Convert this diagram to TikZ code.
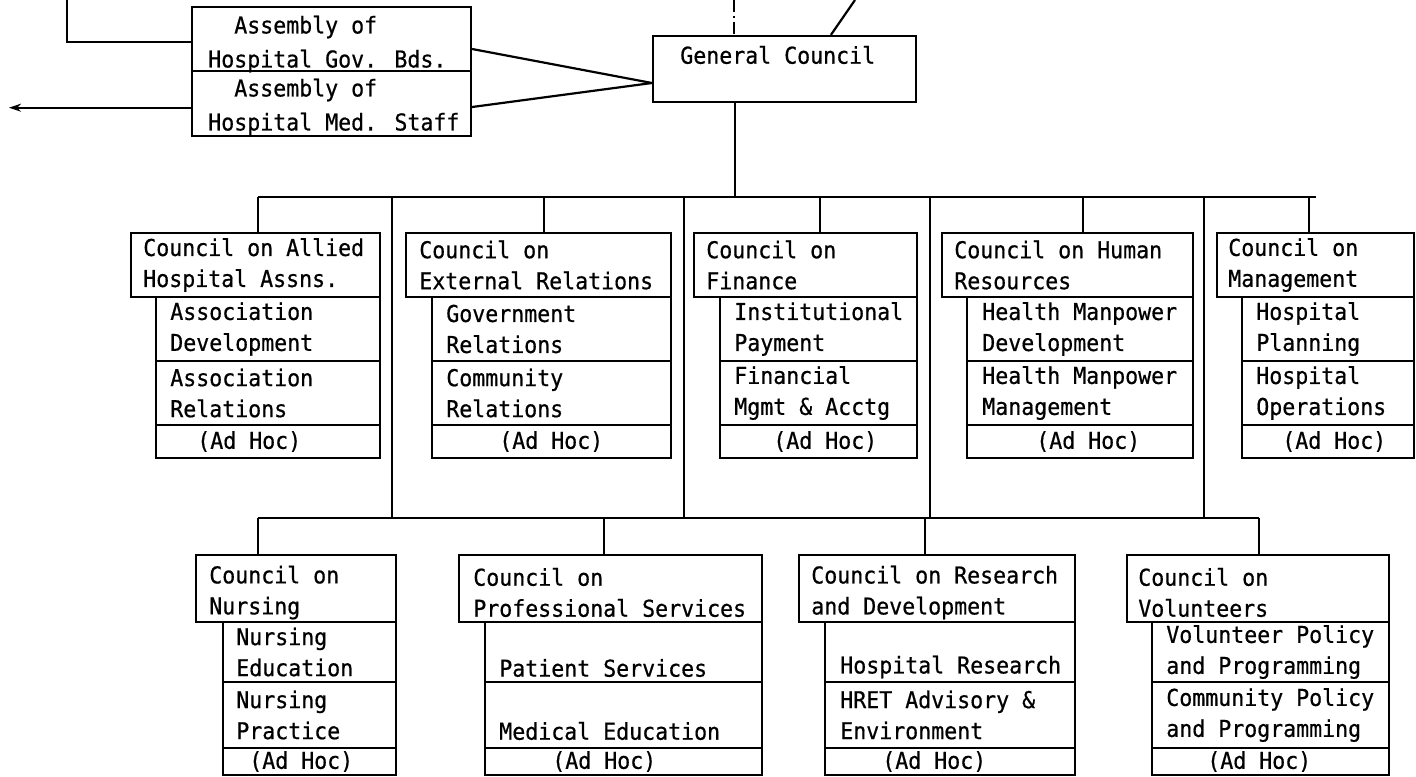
\documentclass[tikz,border=0pt]{standalone}
\usepackage{fontspec}
\newfontfamily\tyfont{DejaVu Sans Mono}[FakeStretch=0.93,FakeBold=0.6]
\usetikzlibrary{fit,arrows.meta}
\begin{document}
\begin{tikzpicture}[x=0.5pt,y=-0.5pt,
  ln/.style={line width=1.1pt},
  box/.style={draw, line width=1.1pt, inner sep=0pt},
  txt/.style={font=\tyfont\fontsize{11.6pt}{15.5pt}\selectfont, align=left, inner sep=0pt, anchor=west},
  asm/.style={txt, font=\tyfont\fontsize{11.6pt}{17pt}\selectfont}
]
\fill[white] (0,0) rectangle (1416,776);
\useasboundingbox (0,0) rectangle (1416,776);
\clip (0,0) rectangle (1416,776);

% ---- top level
\node[box, fit={(192,7)(471,71)}] (agov) {};
\node[box, fit={(192,71)(471,136)}] (amed) {};
\node[box, fit={(653,36)(916,102)}] (gc) {};
\node[asm] (agovt) at ([xshift=8.5pt,yshift=-2.5pt]agov.west) {\phantom{Ho}Assembly of\\Hospital Gov. Bds.};
\node[asm] (amedt) at ([xshift=8.5pt,yshift=-1.75pt]amed.west) {\phantom{Ho}Assembly of\\Hospital Med. Staff};
\node[txt] (gct) at ([xshift=14pt,yshift=7pt]gc.west) {General Council};

\coordinate (tl) at (67,0);
\coordinate (al) at (9,108);
\coordinate (gctop) at (734,0);
\coordinate (slt) at (855,0);
\coordinate (gcd) at (735,197);
\coordinate (b1l) at (258,197);
\coordinate (b1r) at (1316,197);
\coordinate (b2l) at (258,518);
\coordinate (b2r) at (1259,518);

\draw[ln] ([yshift=-1.5pt]agov.west) -| (tl);
\draw[ln,-{Stealth[length=6pt,width=4pt]}] ([yshift=-2.1pt]amed.west) -- ([yshift=-2.1pt]amed.west -| al);
\draw[ln] ([yshift=-5pt]agov.east) -- ([yshift=-7pt]gc.west);
\draw[ln] ([yshift=-1.75pt]amed.east) -- ([yshift=-7pt]gc.west);
\draw[ln, dash pattern=on 6pt off 2pt on 1pt off 2pt] (gctop) -- (gctop |- gc.north);
\draw[ln] (slt) -- ([xshift=89.5pt]gc.north west);
\draw[ln] (gcd |- gc.south) -- (gcd);
\draw[ln] (b1l) -- (b1r);
\draw[ln] (b2l) -- (b2r);

% dividers between the two buses
\coordinate (d1) at (392,197);
\coordinate (d2) at (684,197);
\coordinate (d3) at (930,197);
\coordinate (d4) at (1204,197);
\foreach \d in {d1,d2,d3,d4} { \draw[ln] (\d) -- (\d |- b2l); }

% ---- row 1
% Allied
\node[box, fit={(131,233)(380,297)}] (h1) {};
\node[box, fit={(156,297)(380,361)}] (s1a) {};
\node[box, fit={(156,361)(380,425)}] (s1b) {};
\node[box, fit={(156,425)(380,458)}] (s1c) {};
\node[txt] (h1t) at ([xshift=6.5pt]h1.west) {Council on Allied\\Hospital Assns.};
\node[txt] (s1at) at ([xshift=7.5pt]s1a.west) {Association\\Development};
\node[txt] (s1bt) at ([xshift=7.5pt]s1b.west) {Association\\Relations};
\node[txt] (s1ct) at ([xshift=21pt]s1c.west) {(Ad Hoc)};
% External
\node[box, fit={(406,233)(671,297)}] (h2) {};
\node[box, fit={(432,297)(671,361)}] (s2a) {};
\node[box, fit={(432,361)(671,425)}] (s2b) {};
\node[box, fit={(432,425)(671,458)}] (s2c) {};
\node[txt] (h2t) at ([xshift=7pt]h2.west) {Council on\\External Relations};
\node[txt] (s2at) at ([xshift=7.5pt]s2a.west) {Government\\Relations};
\node[txt] (s2bt) at ([xshift=7.5pt]s2b.west) {Community\\Relations};
\node[txt] (s2ct) at ([xshift=34pt]s2c.west) {(Ad Hoc)};
% Finance
\node[box, fit={(694,233)(917,297)}] (h3) {};
\node[box, fit={(720,297)(917,361)}] (s3a) {};
\node[box, fit={(720,361)(917,425)}] (s3b) {};
\node[box, fit={(720,425)(917,458)}] (s3c) {};
\node[txt] (h3t) at ([xshift=6.5pt]h3.west) {Council on\\Finance};
\node[txt] (s3at) at ([xshift=7.5pt]s3a.west) {Institutional\\Payment};
\node[txt] (s3bt) at ([xshift=7.5pt]s3b.west) {Financial\\Mgmt \& Acctg};
\node[txt] (s3ct) at ([xshift=27pt]s3c.west) {(Ad Hoc)};
% Human Resources
\node[box, fit={(942,233)(1193,297)}] (h4) {};
\node[box, fit={(967,297)(1193,361)}] (s4a) {};
\node[box, fit={(967,361)(1193,425)}] (s4b) {};
\node[box, fit={(967,425)(1193,458)}] (s4c) {};
\node[txt] (h4t) at ([xshift=6.5pt]h4.west) {Council on Human\\Resources};
\node[txt] (s4at) at ([xshift=8pt]s4a.west) {Health Manpower\\Development};
\node[txt] (s4bt) at ([xshift=8pt]s4b.west) {Health Manpower\\Management};
\node[txt] (s4ct) at ([xshift=35pt]s4c.west) {(Ad Hoc)};
% Management
\node[box, fit={(1217,233)(1414,297)}] (h5) {};
\node[box, fit={(1242,297)(1414,361)}] (s5a) {};
\node[box, fit={(1242,361)(1414,425)}] (s5b) {};
\node[box, fit={(1242,425)(1414,458)}] (s5c) {};
\node[txt] (h5t) at ([xshift=6pt]h5.west) {Council on\\Management};
\node[txt] (s5at) at ([xshift=7.5pt]s5a.west) {Hospital\\Planning};
\node[txt] (s5bt) at ([xshift=7.5pt]s5b.west) {Hospital\\Operations};
\node[txt] (s5ct) at ([xshift=20.5pt]s5c.west) {(Ad Hoc)};

\coordinate (p2) at (544,197);
\coordinate (p3) at (820,197);
\coordinate (p4) at (1083,197);
\coordinate (p5) at (1309,197);
\draw[ln] (b1l) -- (b1l |- h1.north);
\draw[ln] (p2) -- (p2 |- h2.north);
\draw[ln] (p3) -- (p3 |- h3.north);
\draw[ln] (p4) -- (p4 |- h4.north);
\draw[ln] (p5) -- (p5 |- h5.north);

% ---- row 2
% Nursing
\node[box, fit={(196,555)(396,622)}] (h6) {};
\node[box, fit={(223,622)(396,682)}] (s6a) {};
\node[box, fit={(223,682)(396,748)}] (s6b) {};
\node[box, fit={(223,748)(396,775)}] (s6c) {};
\node[txt] (h6t) at ([xshift=7pt,yshift=-2pt]h6.west) {Council on\\Nursing};
\node[txt] (s6at) at ([xshift=7pt]s6a.west) {Nursing\\Education};
\node[txt] (s6bt) at ([xshift=7pt]s6b.west) {Nursing\\Practice};
\node[txt] (s6ct) at ([xshift=13.5pt]s6c.west) {(Ad Hoc)};
% Professional Services
\node[box, fit={(459,555)(762,622)}] (h7) {};
\node[box, fit={(485,622)(762,682)}] (s7a) {};
\node[box, fit={(485,682)(762,748)}] (s7b) {};
\node[box, fit={(485,748)(762,775)}] (s7c) {};
\node[txt] (h7t) at ([xshift=7.5pt,yshift=-2pt]h7.west) {Council on\\Professional Services};
\node[txt] (s7at) at ([xshift=7.5pt,yshift=-8pt]s7a.west) {Patient Services};
\node[txt] (s7bt) at ([xshift=7.5pt,yshift=-8pt]s7b.west) {Medical Education};
\node[txt] (s7ct) at ([xshift=34pt]s7c.west) {(Ad Hoc)};
% Research and Development
\node[box, fit={(799,555)(1075,622)}] (h8) {};
\node[box, fit={(825,622)(1075,682)}] (s8a) {};
\node[box, fit={(825,682)(1075,748)}] (s8b) {};
\node[box, fit={(825,748)(1075,775)}] (s8c) {};
\node[txt] (h8t) at ([xshift=6.5pt,yshift=-2pt]h8.west) {Council on Research\\and Development};
\node[txt] (s8at) at ([xshift=8pt,yshift=-7.5pt]s8a.west) {Hospital Research};
\node[txt] (s8bt) at ([xshift=8pt]s8b.west) {HRET Advisory \&\\Environment};
\node[txt] (s8ct) at ([xshift=29pt]s8c.west) {(Ad Hoc)};
% Volunteers
\node[box, fit={(1127,555)(1389,622)}] (h9) {};
\node[box, fit={(1152,622)(1389,682)}] (s9a) {};
\node[box, fit={(1152,682)(1389,748)}] (s9b) {};
\node[box, fit={(1152,748)(1389,775)}] (s9c) {};
\node[txt] (h9t) at ([xshift=6pt,yshift=-2pt]h9.west) {Council on\\Volunteers};
\node[txt] (s9at) at ([xshift=7.5pt]s9a.west) {Volunteer Policy\\and Programming};
\node[txt] (s9bt) at ([xshift=7.5pt]s9b.west) {Community Policy\\and Programming};
\node[txt] (s9ct) at ([xshift=28pt]s9c.west) {(Ad Hoc)};

\coordinate (q7) at (604,518);
\coordinate (q8) at (925,518);
\draw[ln] (b2l) -- (b2l |- h6.north);
\draw[ln] (q7) -- (q7 |- h7.north);
\draw[ln] (q8) -- (q8 |- h8.north);
\draw[ln] (b2r) -- (b2r |- h9.north);
\end{tikzpicture}
\end{document}
